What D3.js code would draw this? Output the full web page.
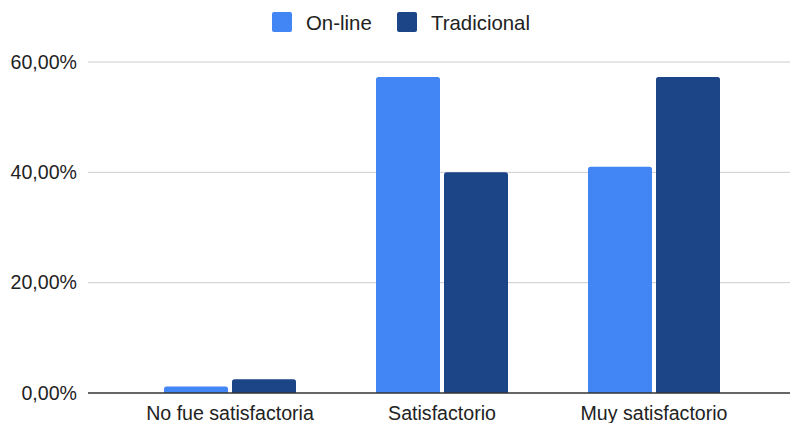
<!DOCTYPE html>
<html>
<head>
<meta charset="utf-8">
<script src="https://cdn.jsdelivr.net/npm/d3@7"></script>
<style>
  html, body { margin: 0; padding: 0; background: #fff; }
  svg { display: block; }
  text { font-family: "Liberation Sans", Arial, sans-serif; fill: #222; }
</style>
</head>
<body>
<svg id="chart" width="791" height="423"></svg>
<script>
// Satisfaction by course modality
const categories = ["No fue satisfactoria", "Satisfactorio", "Muy satisfactorio"];
const seriesNames = ["On-line", "Tradicional"];
const onlineValues = [1.2, 57.3, 41.0];
const tradicionalValues = [2.5, 40.0, 57.3];
const yTicks = [0, 20, 40, 60];
const colors = ["#4285f4", "#1c4587"];

const seriesValues = [onlineValues, tradicionalValues];
const rows = categories.map((c, i) => ({
  category: c,
  values: seriesNames.map((s, j) => ({ series: s, value: seriesValues[j][i] }))
}));

const svg = d3.select("#chart");
const fontSize = 19.6;
const gridLeft = 88, gridRight = 790;

const y = d3.scaleLinear().domain([0, 60]).range([393, 62]);
const x0 = d3.scaleBand().domain(categories).range([124, 760]);
const x1 = d3.scaleBand().domain(seriesNames).range([40, 172]).paddingInner(4 / 68);
const color = d3.scaleOrdinal().domain(seriesNames).range(colors);

const fmt = v => d3.format(".2f")(v).replace(".", ",") + "%";

// Gridlines
svg.append("g")
  .selectAll("line")
  .data(yTicks.filter(t => t !== 0))
  .join("line")
  .attr("x1", gridLeft).attr("x2", gridRight)
  .attr("y1", d => y(d)).attr("y2", d => y(d))
  .attr("stroke", "#cccccc").attr("stroke-width", 1);

// Y axis labels
const yAxis = d3.axisLeft(y).tickValues(yTicks).tickFormat(fmt).tickSize(0).tickPadding(0);
const yg = svg.append("g").attr("transform", `translate(${gridLeft - 11},0)`).call(yAxis);
yg.select(".domain").remove();
yg.selectAll("text")
  .attr("font-size", fontSize)
  .attr("font-family", '"Liberation Sans", Arial, sans-serif')
  .attr("fill", "#222");

// Bars with rounded top corners
const r = 2.5;
function barPath(x, yTop, w, yBase) {
  const h = yBase - yTop;
  const rr = Math.min(r, h / 2, w / 2);
  return `M${x},${yBase}V${yTop + rr}Q${x},${yTop} ${x + rr},${yTop}H${x + w - rr}Q${x + w},${yTop} ${x + w},${yTop + rr}V${yBase}Z`;
}

svg.append("g")
  .selectAll("g")
  .data(rows)
  .join("g")
  .attr("transform", d => `translate(${x0(d.category)},0)`)
  .selectAll("path")
  .data(d => d.values)
  .join("path")
  .attr("d", d => barPath(x1(d.series), y(d.value), x1.bandwidth(), y(0)))
  .attr("fill", d => color(d.series));

// Baseline
svg.append("line")
  .attr("x1", gridLeft).attr("x2", gridRight)
  .attr("y1", y(0)).attr("y2", y(0))
  .attr("stroke", "#333").attr("stroke-width", 1.5);

// X axis labels
const xAxis = d3.axisBottom(x0).tickSize(0).tickPadding(0);
const xg = svg.append("g").attr("transform", `translate(0,${y(0) + 13})`).call(xAxis);
xg.select(".domain").remove();
xg.selectAll("text")
  .attr("font-size", fontSize)
  .attr("font-family", '"Liberation Sans", Arial, sans-serif')
  .attr("fill", "#222")
  .attr("dy", "0.71em");

// Legend
const legendItems = [
  { name: seriesNames[0], x: 272 },
  { name: seriesNames[1], x: 397 }
];
const lg = svg.append("g").selectAll("g").data(legendItems).join("g")
  .attr("transform", d => `translate(${d.x},12)`);
lg.append("rect")
  .attr("width", 20).attr("height", 20).attr("rx", 2)
  .attr("fill", d => color(d.name));
lg.append("text")
  .attr("x", 34).attr("y", 18)
  .attr("font-size", 20.4)
  .text(d => d.name);
</script>
</body>
</html>
